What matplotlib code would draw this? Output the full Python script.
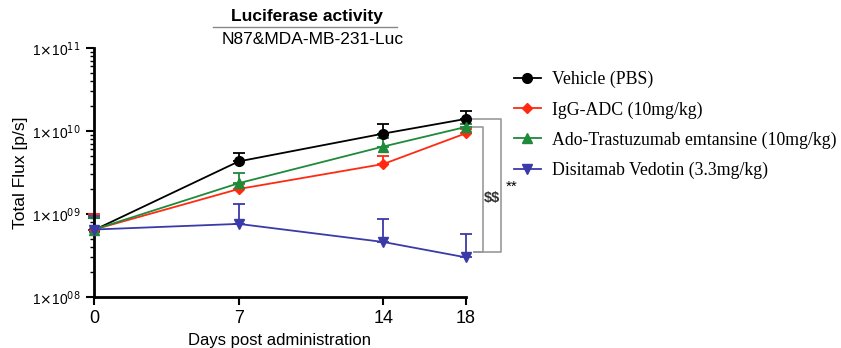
import matplotlib
matplotlib.use("Agg")
import matplotlib.pyplot as plt
from matplotlib.ticker import FixedLocator, LogLocator, NullFormatter

days = [0, 7, 14, 18]
tick_days = [0, 7, 14, 18]
series_names = ["Vehicle (PBS)", "IgG-ADC (10mg/kg)",
                "Ado-Trastuzumab emtansine (10mg/kg)", "Disitamab Vedotin (3.3mg/kg)"]
vehicle = [6.4e8, 4.3e9, 9.3e9, 1.4e10]
vehicle_err_top = [9.0e8, 5.5e9, 1.2e10, 1.75e10]
igg = [6.5e8, 2.0e9, 4.0e9, 9.4e9]
igg_err_top = [1.0e9, 2.3e9, 5.0e9, 1.05e10]
ado = [6.5e8, 2.35e9, 6.5e9, 1.12e10]
ado_err_top = [9.0e8, 3.1e9, 8.3e9, 1.2e10]
disit = [6.5e8, 7.6e8, 4.6e8, 3.0e8]
disit_err_top = [9.5e8, 1.32e9, 8.7e8, 5.7e8]
y_ticks = [1e8, 1e9, 1e10, 1e11]
y_tick_labels = [r"1$\times$10$^{08}$", r"1$\times$10$^{09}$", r"1$\times$10$^{10}$", r"1$\times$10$^{11}$"]

colors = ["#000000", "#ff2a10", "#1e8a3a", "#3a3aa8"]
markers = ["o", "D", "^", "v"]
msizes = [7, 5, 7, 7]

fig = plt.figure(figsize=(8.41, 3.48), dpi=100)
ax = fig.add_axes([94/841, 1-297/348, (466-94)/841, (297-48)/348])
ax.set_yscale("log")
ax.set_ylim(1e8, 1e11)
ax.set_xlim(0, 18)

data = [(vehicle, vehicle_err_top), (igg, igg_err_top), (ado, ado_err_top), (disit, disit_err_top)]
order = [3, 1, 2, 0]
handles = {}
for i in order:
    vals, top = data[i]
    up = [t - v for t, v in zip(top, vals)]
    lo = [0 for _ in vals]
    ax.errorbar(days, vals, yerr=[lo, up], fmt="none", ecolor=colors[i], elinewidth=1.3,
                capsize=4, capthick=1.3, zorder=2 + i * 0.1, clip_on=False)
    h, = ax.plot(days, vals, color=colors[i], marker=markers[i], markersize=msizes[i],
                 linewidth=1.3, zorder=3 + i * 0.1, clip_on=False, label=series_names[i])
    handles[i] = h

for s in ["top", "right"]:
    ax.spines[s].set_visible(False)
for s in ["left", "bottom"]:
    ax.spines[s].set_linewidth(2)

ax.set_xticks(tick_days)
ax.set_xticklabels([str(d) for d in tick_days], fontsize=13, family="Liberation Sans")
ax.yaxis.set_major_locator(FixedLocator(y_ticks))
ax.set_yticklabels(y_tick_labels, fontsize=10, family="Liberation Sans")
ax.yaxis.set_minor_locator(LogLocator(base=10, subs=range(2, 10)))
ax.yaxis.set_minor_formatter(NullFormatter())
ax.tick_params(axis="both", which="major", direction="out", length=6, width=1.5)
ax.tick_params(axis="y", which="minor", direction="out", length=3, width=1)
ax.set_ylabel("Total Flux [p/s]", fontsize=12.5, family="Liberation Sans", labelpad=3)
ax.set_xlabel("Days post administration", fontsize=12, family="Liberation Sans", labelpad=4)

# Title with divider line
fig.text(0.365, 1 - 17/348, "Luciferase activity", ha="center", va="center", fontsize=12.5,
         family="Liberation Sans", fontweight="semibold")
fig.add_artist(plt.Line2D([213/841, 397/841], [1 - 27/348, 1 - 27/348], color="#888888", linewidth=1))
fig.text(0.372, 1 - 39/348, "N87&MDA-MB-231-Luc", ha="center", va="center", fontsize=12.5,
         family="Liberation Sans")

# Significance brackets
gray = "#999999"
ax.plot([18.3, 19.69, 19.69, 18.4], [vehicle[3], vehicle[3], disit[3] * 1.15, disit[3] * 1.15],
        color=gray, linewidth=1.2, clip_on=False)
ax.plot([18.3, 18.82, 18.82, 18.4], [ado[3], ado[3], disit[3] * 1.15, disit[3] * 1.15],
        color=gray, linewidth=1.2, clip_on=False)
ax.text(19.26, 1.56e9, r"\$\$", fontsize=10.5, family="Liberation Sans", fontweight="bold",
        ha="center", va="center", color="#333333")
ax.text(20.2, 2.1e9, "**", fontsize=11, family="Liberation Sans", ha="center", va="center")

leg = fig.legend([handles[i] for i in range(4)], series_names, loc="center left",
                 bbox_to_anchor=(0.592, 1 - 125/348), frameon=False,
                 prop={"family": "Liberation Serif", "size": 12.8}, handlelength=1.5,
                 labelspacing=0.72, handletextpad=0.65)

fig.savefig("out.png", dpi=100)
